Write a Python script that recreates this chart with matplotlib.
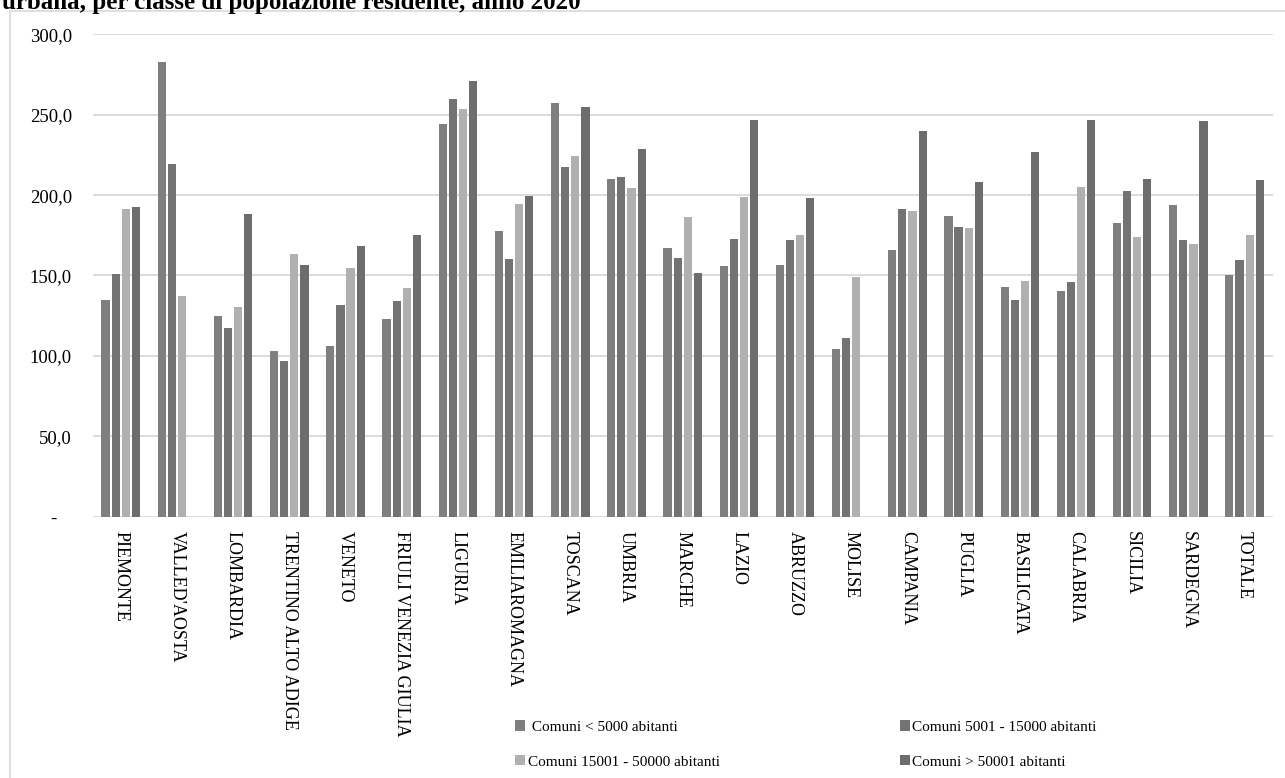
import matplotlib.pyplot as plt
import matplotlib.patches as mpatches
import numpy as np

plt.rcParams['font.family'] = ['Liberation Serif', 'DejaVu Serif']

# Categories (regions) and values per population class
regioni = ['PIEMONTE', "VALLED'AOSTA", 'LOMBARDIA', 'TRENTINO ALTO ADIGE', 'VENETO',
           'FRIULI VENEZIA GIULIA', 'LIGURIA', 'EMILIAROMAGNA', 'TOSCANA', 'UMBRIA',
           'MARCHE', 'LAZIO', 'ABRUZZO', 'MOLISE', 'CAMPANIA', 'PUGLIA', 'BASILICATA',
           'CALABRIA', 'SICILIA', 'SARDEGNA', 'TOTALE']

comuni_5000 = [134.8, 282.6, 125.0, 102.8, 106.2, 122.7, 244.5, 177.5, 257.1, 210.0,
               166.9, 155.7, 156.3, 104.3, 165.7, 186.8, 142.9, 140.2, 182.7, 193.7, 150.3]
comuni_15000 = [150.9, 219.2, 117.4, 97.0, 131.9, 134.1, 259.8, 160.5, 217.5, 211.1,
                160.7, 172.5, 172.1, 111.1, 191.6, 180.4, 134.8, 146.0, 202.6, 171.9, 159.4]
comuni_50000 = [191.6, 137.3, 130.4, 163.6, 154.7, 142.4, 253.6, 194.3, 224.3, 204.2,
                186.2, 198.8, 175.4, 149.3, 189.9, 179.8, 146.8, 204.9, 174.0, 169.6, 175.2]
comuni_oltre = [192.4, np.nan, 188.1, 156.5, 168.4, 175.0, 271.2, 199.5, 254.6, 228.7,
                151.4, 246.5, 198.0, np.nan, 239.7, 208.4, 226.8, 246.5, 209.8, 245.9, 209.4]

serie = [
    (' Comuni < 5000 abitanti', comuni_5000, '#7f7f7f'),
    ('Comuni 5001 - 15000 abitanti', comuni_15000, '#737373'),
    ('Comuni 15001 - 50000 abitanti', comuni_50000, '#b0b0b0'),
    ('Comuni > 50001 abitanti', comuni_oltre, '#6d6d6d'),
]

fig = plt.figure(figsize=(12.85, 7.78), dpi=100)
ax = fig.add_axes([0.0721, 0.3359, 0.9183, 0.62])

x = np.arange(len(regioni))
handles = []
for i, (label, vals, col) in enumerate(serie):
    b = ax.bar(x + (i - 1.5) * 0.18, vals, width=0.145, color=col, linewidth=0, zorder=3, label=label)
    handles.append(b)

ax.set_xlim(-0.5, len(regioni) - 0.5)
ax.set_ylim(0, 300)
ax.set_yticks([0, 50, 100, 150, 200, 250, 300])
ax.set_yticklabels(['-   ', '50,0', '100,0', '150,0', '200,0', '250,0', '300,0'], fontsize=13.5)
ax.set_xticks(x)
ax.set_xticklabels(regioni, rotation=-90, fontsize=13, va='top', ha='center')
ax.tick_params(axis='both', length=0)
ax.tick_params(axis='y', pad=15)
ax.tick_params(axis='x', pad=10)
ax.grid(axis='y', color='#d9d9d9', linewidth=1.3, zorder=0)
for s in ax.spines.values():
    s.set_visible(False)

# legend: column-wise order
leg = fig.legend([handles[0], handles[2], handles[1], handles[3]],
                 [serie[0][0], serie[2][0], serie[1][0], serie[3][0]],
                 ncol=2, loc='upper left', bbox_to_anchor=(0.401, 0.074),
                 bbox_transform=fig.transFigure, frameon=False, fontsize=11,
                 handlelength=0.65, handleheight=0.65, handletextpad=0.15,
                 columnspacing=11.8, labelspacing=1.4, borderpad=0, borderaxespad=0)

# outer chart border
fig.patches.append(mpatches.Rectangle((10 / 1285, -0.1), 1.2, 1.1 - 11 / 778,
                                      transform=fig.transFigure, fill=False,
                                      edgecolor='#d9d9d9', linewidth=1.2))

# title, cut at top as in the source
fig.text(2 / 1285, 1 - 8.5 / 778, 'urbana, per classe di popolazione residente, anno 2020',
         fontsize=18, fontweight='bold', ha='left', va='baseline')

fig.savefig('out.png', dpi=100)
